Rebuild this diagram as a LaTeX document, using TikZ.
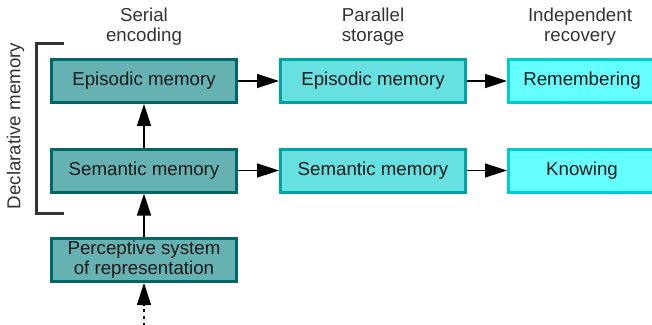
\documentclass[tikz,border=0pt]{standalone}
\usepackage{fontspec}
\setmainfont{Liberation Sans}
\usetikzlibrary{arrows.meta}
\definecolor{serialfill}{HTML}{66B2B2}
\definecolor{serialdraw}{HTML}{006666}
\definecolor{storefill}{HTML}{66E0E0}
\definecolor{storedraw}{HTML}{00A3A3}
\definecolor{recallfill}{HTML}{66FFFF}
\definecolor{recalldraw}{HTML}{00CCCC}
\definecolor{headgray}{HTML}{333333}
\begin{document}
\begin{tikzpicture}[x=1pt,y=-1pt,inner sep=0pt,outer sep=1.5pt,
font=\fontsize{18.7}{20}\selectfont,
>={Triangle[length=22pt,width=14pt]},
membox/.style={draw,rectangle,line width=3pt,minimum width=185pt,minimum height=43pt,align=center,text=black!90},
serial/.style={membox,fill=serialfill,draw=serialdraw},
store/.style={membox,fill=storefill,draw=storedraw},
recall/.style={membox,minimum width=147pt,fill=recallfill,draw=recalldraw},
header/.style={align=center,text=headgray},
link/.style={line width=1.5pt}]
\clip (0,0) rectangle (652,324);
% column headers
\draw (144,27) node[header] (hser) {Serial\\encoding};
\draw (373,27) node[header] (hpar) {Parallel\\storage};
\draw (580,27) node[header] (hind) {Independent\\recovery};
% boxes
\draw (144,81) node[serial] (epi1) {Episodic memory};
\draw (144,170.5) node[serial] (sem1) {Semantic memory};
\draw (144,260) node[serial] (perc) {Perceptive system\\of representation};
\draw (373,81) node[store] (epi2) {Episodic memory};
\draw (373,170.5) node[store] (sem2) {Semantic memory};
\draw (582,81) node[recall] (rem) {Remembering};
\draw (582,170.5) node[recall] (know) {Knowing};
% declarative bracket
\draw[line width=3pt,draw=headgray] (64,43) -| (36,213) -- (64,213);
\draw (15.5,126) node[header,rotate=90] (decl) {Declarative memory};
% connectors
\draw[link,->] (epi1) -- (epi2);
\draw[link,->] (epi2) -- (rem);
\draw[link,->] (sem1) -- (sem2);
\draw[link,->] (sem2) -- (know);
\draw[link,->] (sem1) -- (epi1);
\draw[link,->] (perc) -- (sem1);
\coordinate (input) at (144,326);
\draw[link,->,dash pattern=on 3pt off 4pt] (input) -- (perc);
\end{tikzpicture}
\end{document}
